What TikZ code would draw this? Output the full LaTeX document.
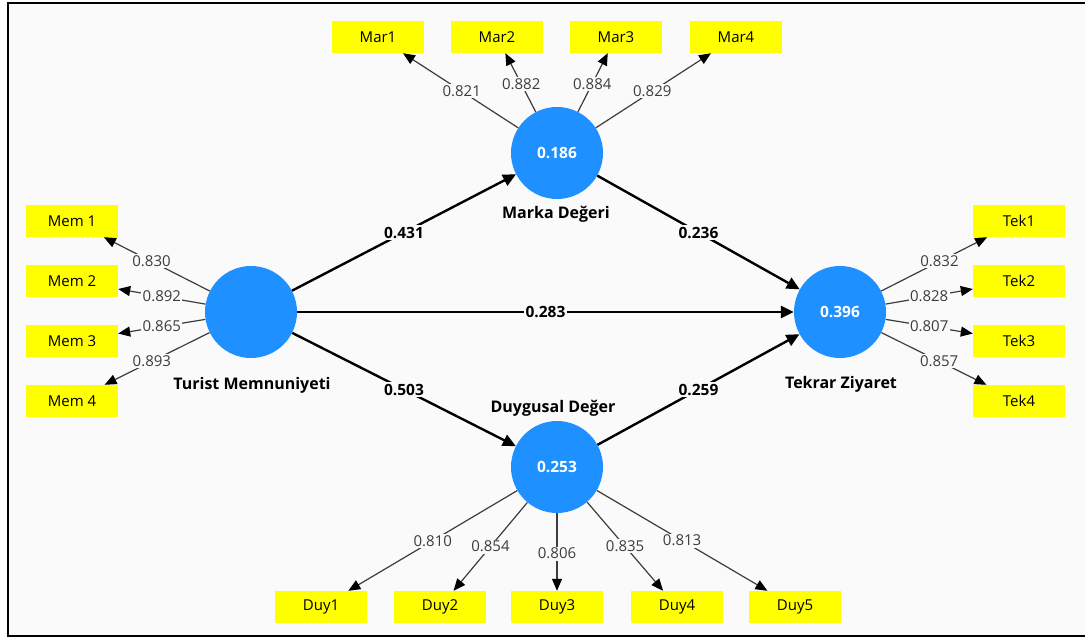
\documentclass[tikz,border=0pt]{standalone}
\usepackage{fontspec}
\setmainfont{Open Sans}
\usetikzlibrary{arrows.meta}
\definecolor{bg}{HTML}{FAFAFA}
\definecolor{lv}{HTML}{1E90FF}
\definecolor{ind}{HTML}{FFFF00}
\definecolor{ln}{HTML}{3C3C3C}
\tikzset{
 lvnode/.style={circle,fill=lv,minimum size=92pt,inner sep=0pt,text=white,font=\fontsize{15.5}{17}\selectfont\bfseries},
 indbox/.style={rectangle,fill=ind,minimum width=92pt,minimum height=32pt,inner sep=0pt,font=\fontsize{15}{17}\selectfont},
 lvname/.style={font=\fontsize{16}{18}\selectfont\bfseries},
 inner/.style={draw=black,line width=2.4pt,-{Triangle[length=13pt,width=12pt]}},
 outer/.style={draw=ln,line width=1.2pt,-{Triangle[length=12pt,width=10pt,color=black]}},
 wl/.style={fill=bg,inner sep=1.5pt,font=\fontsize{15.5}{17}\selectfont\bfseries,text=black},
 ol/.style={fill=bg,inner sep=1.5pt,font=\fontsize{15}{17}\selectfont,text=ln}
}
\begin{document}
\begin{tikzpicture}[x=1pt,y=-1pt]
\useasboundingbox (0,0) rectangle (1085,639);
\fill[white] (0,0) rectangle (1085,639);
\fill[bg] (8,3) rectangle (1090,636);
\draw[line width=2.6pt,black] (1090,3) -- (8,3) -- (8,636) -- (1090,636);

% latent variables
\node[lvnode] (mar) at (557,153) {0.186};
\node[lvnode] (tur) at (251,312) {};
\node[lvnode] (tek) at (840,312) {0.396};
\node[lvnode] (duy) at (557,467) {0.253};

\node[lvname] (marn) at (556,214) {Marka Değeri};
\node[lvname] (turn) at (252,385) {Turist Memnuniyeti};
\node[lvname] (tekn) at (841,384) {Tekrar Ziyaret};
\node[lvname] (duyn) at (553,408) {Duygusal Değer};

% indicators
\node[indbox] (mar1) at (378,37) {Mar1};
\node[indbox] (mar2) at (497,37) {Mar2};
\node[indbox] (mar3) at (616,37) {Mar3};
\node[indbox] (mar4) at (736,37) {Mar4};

\node[indbox] (mem1) at (72,221) {Mem 1};
\node[indbox] (mem2) at (72,281) {Mem 2};
\node[indbox] (mem3) at (72,341) {Mem 3};
\node[indbox] (mem4) at (72,401) {Mem 4};

\node[indbox] (tek1) at (1019,221) {Tek1};
\node[indbox] (tek2) at (1019,281) {Tek2};
\node[indbox] (tek3) at (1019,341) {Tek3};
\node[indbox] (tek4) at (1019,401) {Tek4};

\node[indbox] (duy1) at (321,607) {Duy1};
\node[indbox] (duy2) at (440,607) {Duy2};
\node[indbox] (duy3) at (557,607) {Duy3};
\node[indbox] (duy4) at (677,607) {Duy4};
\node[indbox] (duy5) at (795,607) {Duy5};

% structural paths
\draw[inner] (tur) -- node[wl] {0.431} (mar);
\draw[inner] (tur) -- node[wl] {0.283} (tek);
\draw[inner] (tur) -- node[wl] {0.503} (duy);
\draw[inner] (mar) -- node[wl] {0.236} (tek);
\draw[inner] (duy) -- node[wl] {0.259} (tek);

% outer loadings
\draw[outer] (mar) -- node[ol,pos=0.49] {0.821} (mar1);
\draw[outer] (mar) -- node[ol,pos=0.48] {0.882} (mar2);
\draw[outer] (mar) -- node[ol,pos=0.48] {0.884} (mar3);
\draw[outer] (mar) -- node[ol,pos=0.49] {0.829} (mar4);

\draw[outer] (tur) -- node[ol,pos=0.55] {0.830} (mem1);
\draw[outer] (tur) -- node[ol,pos=0.5] {0.892} (mem2);
\draw[outer] (tur) -- node[ol,pos=0.5] {0.865} (mem3);
\draw[outer] (tur) -- node[ol,pos=0.55] {0.893} (mem4);

\draw[outer] (tek) -- node[ol,pos=0.55] {0.832} (tek1);
\draw[outer] (tek) -- node[ol,pos=0.5] {0.828} (tek2);
\draw[outer] (tek) -- node[ol,pos=0.5] {0.807} (tek3);
\draw[outer] (tek) -- node[ol,pos=0.55] {0.857} (tek4);

\draw[outer] (duy) -- node[ol,pos=0.5] {0.810} (duy1);
\draw[outer] (duy) -- node[ol,pos=0.5] {0.854} (duy2);
\draw[outer] (duy) -- node[ol,pos=0.52] {0.806} (duy3);
\draw[outer] (duy) -- node[ol,pos=0.5] {0.835} (duy4);
\draw[outer] (duy) -- node[ol,pos=0.5] {0.813} (duy5);
\end{tikzpicture}
\end{document}
